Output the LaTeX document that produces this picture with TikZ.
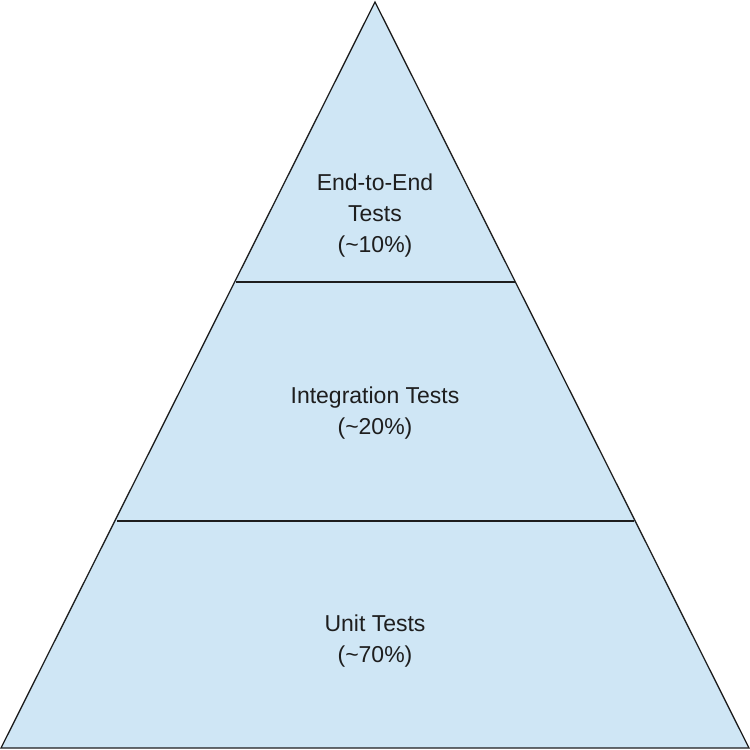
\documentclass[tikz,border=0pt]{standalone}
\usepackage{fontspec}
\setmainfont{Liberation Sans}
\definecolor{tier}{RGB}{207,230,245}
\definecolor{edge}{RGB}{30,30,30}
\begin{document}
\begin{tikzpicture}[x=1pt,y=-1pt,
  lbl/.style={align=center,font=\fontsize{23}{31}\selectfont,text=edge}]
\useasboundingbox (0,0) rectangle (750,750);
\coordinate (apex) at (375,2);
\coordinate (bl) at (1,748);
\coordinate (br) at (749,748);
\coordinate (l1) at (236,282);
\coordinate (r1) at (515,282);
\coordinate (l2) at (117,521);
\coordinate (r2) at (634,521);
\draw[edge,fill=tier,line width=1.3pt,line join=miter] (apex) -- (br) -- (bl) -- cycle;
\draw[edge,line width=1.3pt] (l1) -- (r1);
\draw[edge,line width=1.3pt] (l2) -- (r2);
\node[lbl] (e2e) at (375,216) {End-to-End\\Tests\\(\textasciitilde10\%)};
\node[lbl] (integ) at (375,413) {Integration Tests\\(\textasciitilde20\%)};
\node[lbl] (unit) at (375,641) {Unit Tests\\(\textasciitilde70\%)};
\end{tikzpicture}
\end{document}
